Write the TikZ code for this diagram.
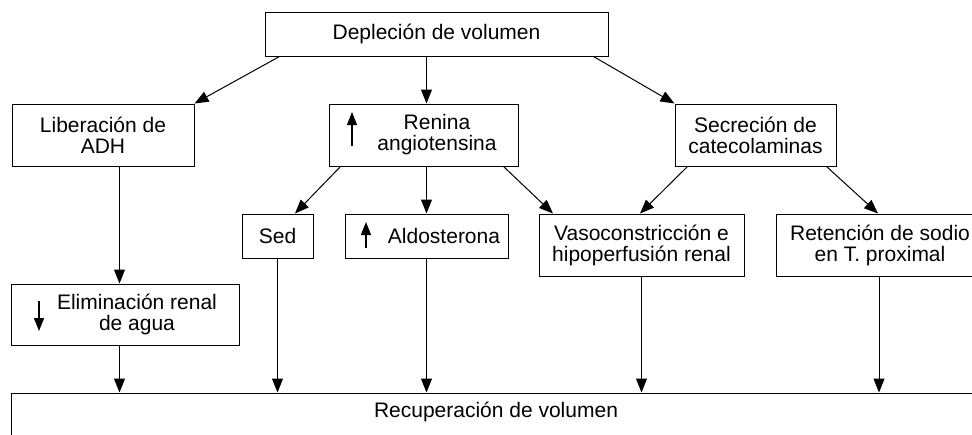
\documentclass[tikz,border=0pt]{standalone}
\usepackage{fontspec}
\setmainfont{Liberation Sans}
\usetikzlibrary{arrows.meta}
\begin{document}
\begin{tikzpicture}[x=1pt,y=-1pt,
  every node/.style={font=\fontsize{21}{21}\selectfont},
  box/.style={draw,line width=1pt,inner sep=0pt,align=center},
  lbl/.style={inner sep=0pt,align=center},
  flow/.style={line width=1pt,-{Triangle[length=14pt,width=11pt]}},
  updown/.style={line width=1.2pt,-{Triangle[length=13pt,width=10pt]}}]
\useasboundingbox (0,0) rectangle (972,434);
\clip (0,0) rectangle (972,434);

% boxes
\node[box,minimum width=343pt,minimum height=44pt] (dep) at (436.5,34) {Depleción de volumen};
\node[box,minimum width=182pt,minimum height=62pt] (lib) at (103,135) {Liberación de\\ADH};
\node[box,minimum width=189pt,minimum height=62pt] (ren) at (423.5,135) {};
\node[lbl] (rentxt) at (437,135) {Renina\\angiotensina};
\node[box,minimum width=161pt,minimum height=62pt] (sec) at (755.5,135) {Secreción de\\catecolaminas};
\node[box,minimum width=71pt,minimum height=44pt] (sed) at (277.5,236) {Sed};
\node[box,minimum width=163pt,minimum height=44pt] (ald) at (426.5,236) {};
\node[lbl] (aldtxt) at (444,236) {Aldosterona};
\node[box,minimum width=205pt,minimum height=62pt] (vaso) at (641.5,245) {Vasoconstricción e\\hipoperfusión renal};
\node[box,minimum width=208pt,minimum height=62pt] (ret) at (880,245) {Retención de sodio\\en T. proximal};
\node[box,minimum width=228pt,minimum height=61pt] (eli) at (125,314.5) {};
\node[lbl] (elitxt) at (137,314.5) {Eliminación renal\\de agua};
\node[box,minimum width=970pt,minimum height=52pt] (rec) at (496,419) {};
\node[lbl] (rectxt) at (496,412) {Recuperación de volumen};

% up / down marks inside boxes
\coordinate (renA) at (352,146);
\coordinate (renB) at (352,112);
\draw[updown] (renA) -- (renB);
\coordinate (aldA) at (366,248);
\coordinate (aldB) at (366,222);
\draw[updown] (aldA) -- (aldB);
\coordinate (eliA) at (39,301);
\coordinate (eliB) at (39,331);
\draw[updown] (eliA) -- (eliB);

% connectors
\draw[flow] ([xshift=15pt]dep.south west) -- (lib.north east);
\draw[flow] (dep.south -| ald.north) -- (ren.north -| ald.north);
\draw[flow] ([xshift=-15pt]dep.south east) -- (sec.north west);

\draw[flow] ([xshift=12pt]ren.south west) -- ([xshift=17.5pt]sed.north);
\draw[flow] (ren.south -| ald.north) -- (ald.north);
\draw[flow] ([xshift=-15pt]ren.south east) -- ([xshift=-88.5pt]vaso.north);
\draw[flow] ([xshift=13pt]sec.south west) -- ([xshift=-1.5pt]vaso.north);
\draw[flow] ([xshift=-10pt]sec.south east) -- ([xshift=-2pt]ret.north);

\draw[flow] (lib.south -| eli.north west) ++(109pt,0) coordinate (libdown) -- (libdown |- eli.north);
\draw[flow] (libdown |- eli.south) -- (libdown |- rec.north);
\draw[flow] (sed.south) -- (sed.south |- rec.north);
\draw[flow] (ald.south) -- (ald.south |- rec.north);
\draw[flow] (vaso.south) -- (vaso.south |- rec.north);
\draw[flow] ([xshift=-1pt]ret.south) -- ([xshift=-1pt]ret.south |- rec.north);
\end{tikzpicture}
\end{document}
